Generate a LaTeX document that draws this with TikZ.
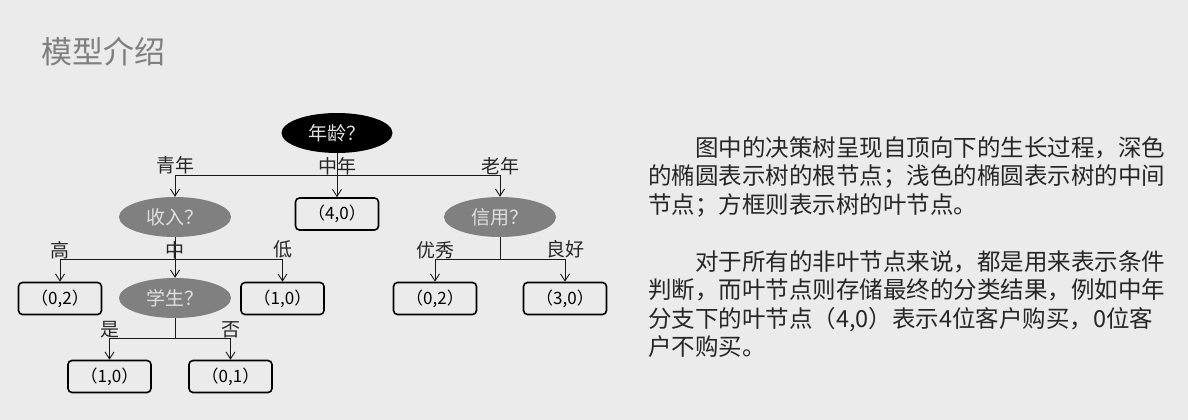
\documentclass[tikz,border=0pt]{standalone}
\usepackage{fontspec}
\setmainfont{Noto Sans CJK SC}
\usetikzlibrary{shapes.geometric, arrows.meta, positioning}
\definecolor{bggray}{HTML}{EBEBEB}
\definecolor{titlegray}{HTML}{7F7F7F}
\definecolor{nodegray}{HTML}{808080}
\definecolor{textlight}{HTML}{E0E0E0}
\definecolor{inkdark}{HTML}{262626}

\begin{document}
\begin{tikzpicture}[x=1pt, y=-1pt,
  rootnode/.style={ellipse, fill=black, text=textlight, minimum width=111pt, minimum height=40pt, inner sep=0pt, font=\fontsize{19}{19}\selectfont},
  midnode/.style={ellipse, fill=nodegray, text=textlight, minimum width=112pt, minimum height=40pt, inner sep=0pt, font=\fontsize{19}{19}\selectfont},
  leafbox/.style={rectangle, draw=black, line width=1.6pt, rounded corners=4pt, minimum width=83pt, minimum height=32pt, inner sep=0pt, font=\fontsize{17}{17}\selectfont},
  branch/.style={inner sep=0pt, text=black!85, font=\fontsize{19}{19}\selectfont},
  bus/.style={line width=0.9pt, draw=black!90},
  arrow/.style={-{Straight Barb[length=7pt, width=9pt]}, line width=0.9pt, draw=black!90}
]
  \fill[bggray] (0,0) rectangle (1188,420);
  \node[anchor=west, inner sep=0pt, text=titlegray, font=\fontsize{31}{31}\selectfont] (title) at (41,52) {模型介绍};

  \node[rootnode] (age) at (337,133) {年龄？};
  \node[midnode] (income) at (175,217) {收入？};
  \node[leafbox] (mid) at (337,214) {（4,0）};
  \node[midnode] (credit) at (500,217) {信用？};
  \node[leafbox] (high) at (60,298.5) {（0,2）};
  \node[midnode] (student) at (175,298) {学生？};
  \node[leafbox] (low) at (282.5,298.5) {（1,0）};
  \node[leafbox] (excellent) at (435,298.5) {（0,2）};
  \node[leafbox] (good) at (565,298.5) {（3,0）};
  \node[leafbox] (yes) at (109.5,376.5) {（1,0）};
  \node[leafbox] (no) at (230.5,376.5) {（0,1）};

  \coordinate (b1) at (337,175);
  \coordinate (b2) at (175,259);
  \coordinate (b3) at (500,259);
  \coordinate (b4) at (175,338);

  \draw[arrow] (age) -- node[branch, pos=0.5, above] {中年} (mid);
  \draw[arrow] (b1) -| node[branch, pos=0.5, above] {青年} (income);
  \draw[arrow] (b1) -| node[branch, pos=0.5, above] {老年} (credit);

  \draw[bus] (income) -- (b2);
  \draw[arrow] (b2) -| node[branch, pos=0.5, above] {高} (high);
  \draw[arrow] (b2) -- node[branch, pos=0, above] {中} (student);
  \draw[arrow] (b2) -| node[branch, pos=0.5, above] {低} (low);

  \draw[bus] (credit) -- (b3);
  \draw[arrow] (b3) -| node[branch, pos=0.5, above] {优秀} (excellent);
  \draw[arrow] (b3) -| node[branch, pos=0.5, above] {良好} (good);

  \draw[bus] (student) -- (b4);
  \draw[arrow] (b4) -| node[branch, pos=0.5, above] {是} (yes);
  \draw[arrow] (b4) -| node[branch, pos=0.5, above] {否} (no);

  \node[anchor=north west, inner sep=0pt, align=left, text=inkdark, font=\fontsize{23.5}{28.5}\selectfont] (desc) at (648,136) {%
    \hspace*{2em}图中的决策树呈现自顶向下的生长过程，深色\\
    的椭圆表示树的根节点；浅色的椭圆表示树的中间\\
    节点；方框则表示树的叶节点。\\[28.5pt]
    \hspace*{2em}对于所有的非叶节点来说，都是用来表示条件\\
    判断，而叶节点则存储最终的分类结果，例如中年\\
    分支下的叶节点（4,0）表示4位客户购买，0位客\\
    户不购买。};
\end{tikzpicture}
\end{document}
